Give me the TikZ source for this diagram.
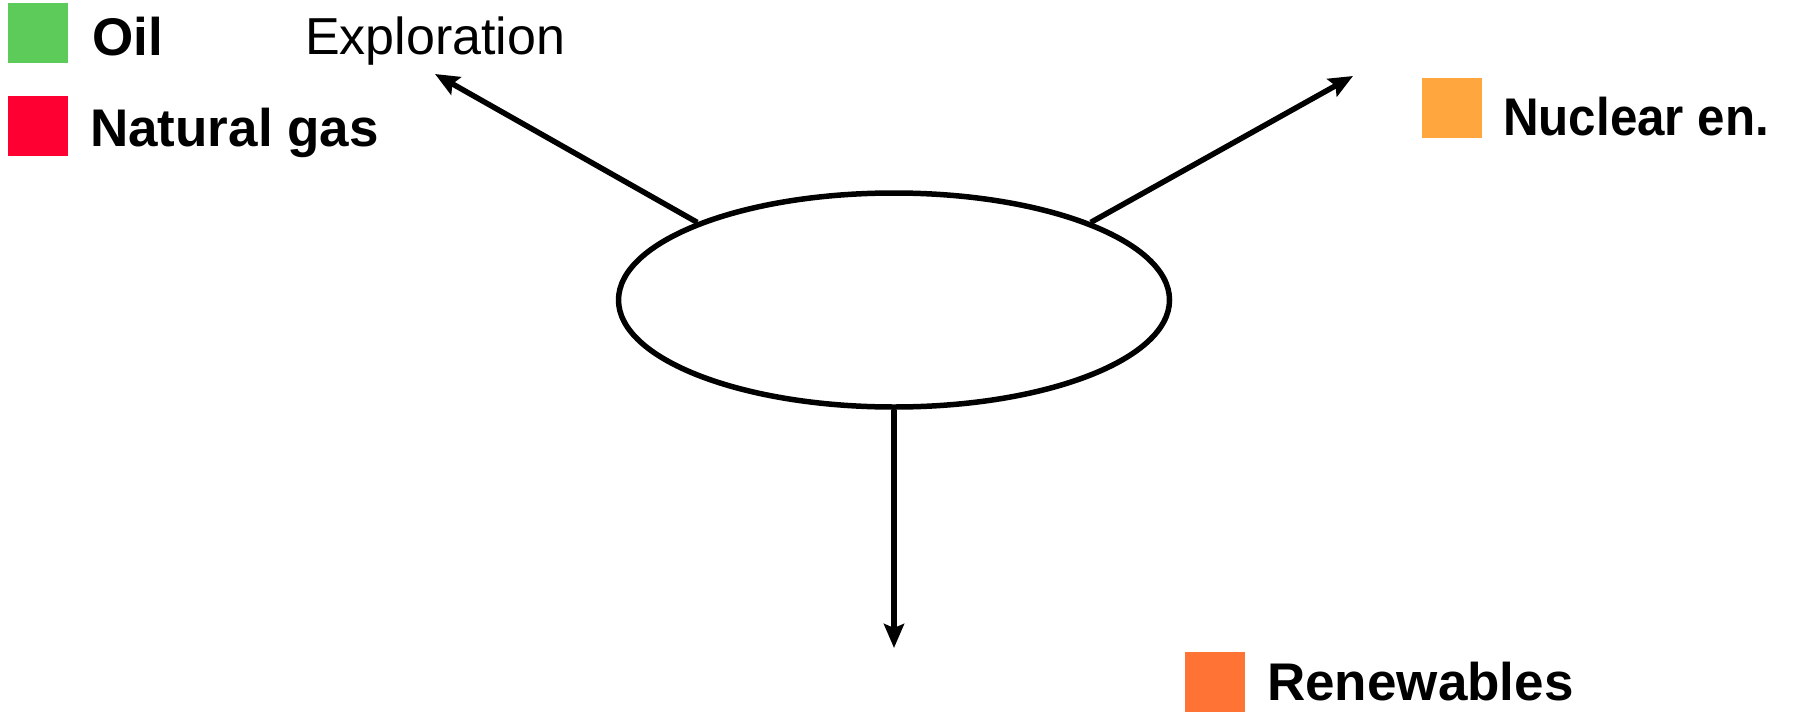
\documentclass[tikz,border=0pt]{standalone}
\usepackage{fontspec}
\setmainfont{Liberation Sans}
\usetikzlibrary{shapes.geometric,arrows.meta}
\definecolor{oilgreen}{HTML}{5CCB5A}
\definecolor{gasred}{HTML}{FF0033}
\definecolor{nucorange}{HTML}{FFA63F}
\definecolor{renorange}{HTML}{FF7435}
\tikzset{
  swatch/.style={minimum width=60pt,minimum height=60pt,inner sep=0pt,anchor=north west},
  legtext/.style={anchor=base west,inner sep=0pt,font=\fontsize{53}{60}\selectfont\bfseries},
  plaintext/.style={anchor=base west,inner sep=0pt,font=\fontsize{52}{60}\selectfont},
  conn/.style={line width=5.5pt,-{Stealth[length=24pt,width=20pt,inset=4pt]}}
}
\begin{document}
\begin{tikzpicture}[x=1pt,y=-1pt]
\path[use as bounding box,fill=white] (0,0) rectangle (1806,712);
% legend
\node[swatch,fill=oilgreen] (sqoil) at (8,3) {};
\node[legtext] (toil) at (92,55) {Oil};
\node[swatch,fill=gasred] (sqgas) at (8,96) {};
\node[legtext] (tgas) at (90,146) {Natural gas};
\node[plaintext] (texpl) at (305,54) {Exploration};
\node[swatch,fill=nucorange] (sqnuc) at (1422,78) {};
\node[legtext,xscale=0.93] (tnuc) at (1503,135) {Nuclear en.};
\node[swatch,fill=renorange] (sqren) at (1185,652) {};
\node[legtext] (tren) at (1267,700) {Renewables};
% ellipse
\node[ellipse,draw,line width=5.5pt,minimum width=551pt,minimum height=214pt,inner sep=0pt] (e) at (894,300) {};
\coordinate (pl) at (435,74);
\coordinate (pr) at (1353,76);
\coordinate (pb) at (894,648);
\draw[conn] (e.north west) -- (pl);
\draw[conn] (e.north east) -- (pr);
\draw[conn] (e.south) -- (pb);
\end{tikzpicture}
\end{document}
